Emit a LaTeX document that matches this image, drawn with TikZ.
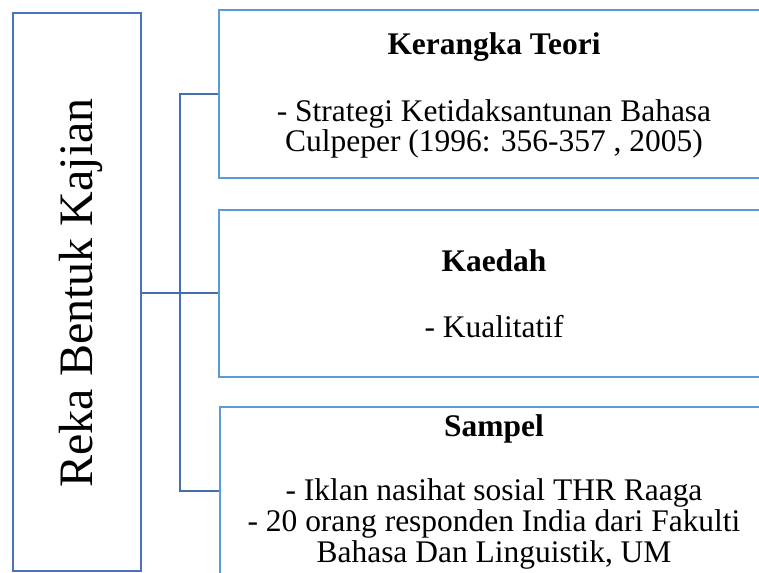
\documentclass[tikz,border=0pt]{standalone}
\usepackage{fontspec}
\setmainfont{Liberation Serif}
\begin{document}
\begin{tikzpicture}[x=0.75pt,y=-0.75pt,
  leftbox/.style={draw={rgb,255:red,74;green,114;blue,192},line width=1.6pt,fill=white,minimum width=96pt,minimum height=418.5pt,inner sep=0pt},
  rightbox/.style={draw={rgb,255:red,91;green,155;blue,213},line width=1.6pt,fill=white,minimum width=412.5pt,minimum height=126pt,inner sep=0pt},
  conn/.style={draw={rgb,255:red,65;green,113;blue,168},line width=2pt},
  title/.style={font=\fontsize{23.6}{23}\selectfont\bfseries,anchor=base,inner sep=0pt},
  body/.style={font=\fontsize{23.6}{23}\selectfont,anchor=base,inner sep=0pt}]
\clip (0,0) rectangle (759,573);
\fill[white] (0,0) rectangle (759,573);
\node[leftbox] (L) at (77,292) {};
\node[rightbox] (T) at (494,94) {};
\node[rightbox,minimum height=125.25pt] (M) at (494,293.5) {};
\node[rightbox] (B) at (495,491) {};
\coordinate (jn) at (180,293);
\draw[conn] (L.east |- jn) -- (M.west |- jn);
\draw[conn] (T.west) -| (jn) |- (B.west);
\node[rotate=90,anchor=base,inner sep=0pt,font=\fontsize{36}{36}\selectfont] (Lt) at (92,293) {Reka Bentuk Kajian};
\node[title] (t1) at (494,55) {Kerangka Teori};
\node[body] (t2) at (494,122) {- Strategi Ketidaksantunan Bahasa};
\node[body] (t3) at (494,152) {Culpeper (1996: 356-357 , 2005)};
\node[title] (m1) at (494,272) {Kaedah};
\node[body] (m2) at (494,337) {- Kualitatif};
\node[title] (b1) at (494,436) {Sampel};
\node[body] (b2) at (494,500) {- Iklan nasihat sosial THR Raaga};
\node[body] (b3) at (494,531) {- 20 orang responden India dari Fakulti};
\node[body] (b4) at (494,562) {Bahasa Dan Linguistik, UM};
\end{tikzpicture}
\end{document}
